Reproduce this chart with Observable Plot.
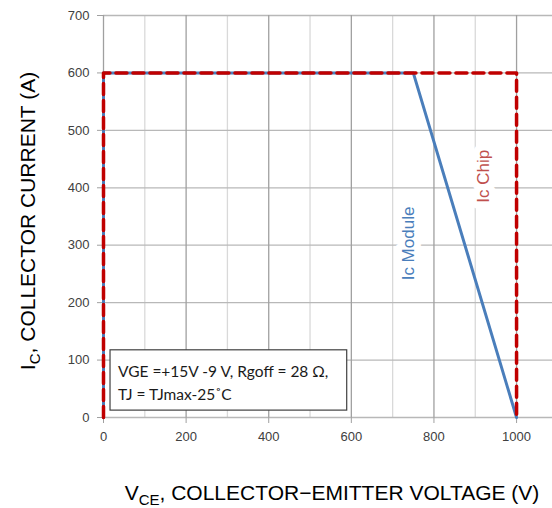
<!DOCTYPE html>
<html>
<head>
<meta charset="utf-8">
<script src="https://cdn.jsdelivr.net/npm/d3@7"></script>
<script src="https://cdn.jsdelivr.net/npm/@observablehq/plot@0.6"></script>
<style>
  html, body { margin: 0; padding: 0; background: #fff; }
  #chart svg { display: block; }
</style>
</head>
<body>
<div id="chart"></div>
<script>
// ---- data ----
const xTicks = [0, 200, 400, 600, 800, 1000];
const xMinor = [100, 300, 500, 700, 900];
const yTicks = [0, 100, 200, 300, 400, 500, 600, 700];

const moduleV = [0, 0, 750, 1000];
const moduleI = [0, 600, 600, 0];
const chipV = [0, 0, 1000, 1000];
const chipI = [0, 600, 600, 0];

const seriesLabels = ["Ic Module", "Ic Chip"];
const seriesLabelV = [738, 920];
const seriesLabelI = [303, 420];

const noteLines = ["VGE =+15V -9 V, Rgoff = 28 Ω,", "TJ = TJmax-25˚C"];
const noteBox = [{x1: 17, x2: 590, y1: 12, y2: 117}];
const noteAnchor = [{x: 35, y: 99}];

const xLabel = {main: "V", sub: "CE", rest: ", COLLECTOR\u2212EMITTER VOLTAGE (V)"};
const yLabel = {main: "I", sub: "C", rest: ", COLLECTOR CURRENT (A)"};

// ---- build tables ----
const moduleData = moduleV.map((v, i) => ({v, i: moduleI[i]}));
const chipData = chipV.map((v, i) => ({v, i: chipI[i]}));
const labelData = seriesLabels.map((t, k) => ({t, v: seriesLabelV[k], i: seriesLabelI[k]}));

const blue = "#4a7ebb";
const red = "#c00000";

const plot = Plot.plot({
  width: 552,
  height: 508,
  marginLeft: 103,
  marginRight: 0,
  marginTop: 15,
  marginBottom: 91,
  style: {fontFamily: "Liberation Sans, Arial, sans-serif", fontSize: "13px", background: "#fff"},
  x: {domain: [0, 1087]},
  y: {domain: [0, 700]},
  marks: [
    Plot.ruleX(xMinor, {stroke: "#d9d9d9", strokeWidth: 1.3}),
    Plot.ruleY(yTicks, {stroke: "#b8b8b8", strokeWidth: 1.3}),
    Plot.ruleX(xTicks, {stroke: "#a0a0a0", strokeWidth: 1.3}),
    Plot.axisX({ticks: xTicks, tickSize: 6, tickPadding: 8, stroke: "#a0a0a0", color: "#404040", label: null, tickFormat: d => String(d)}),
    Plot.axisY({ticks: yTicks, tickSize: 6, tickPadding: 8, stroke: "#a0a0a0", color: "#404040", label: null, tickFormat: d => String(d)}),
    Plot.text(labelData, {x: "v", y: "i", text: "t", rotate: -90, fontSize: 17,
      fill: (d) => d.t === "Ic Module" ? blue : "#c0504d",
      stroke: "white", strokeWidth: 14, paintOrder: "stroke"}),
    Plot.rect(noteBox, {x1: "x1", x2: "x2", y1: "y1", y2: "y2", fill: "white", stroke: "#404040", strokeWidth: 1.2}),
    Plot.text(noteAnchor, {x: "x", y: "y", text: () => noteLines.join("\n"), textAnchor: "start", lineAnchor: "top",
      fontFamily: "Lato, sans-serif", fontSize: 15.5, lineHeight: 1.5, fill: "#1a1a1a"}),
    Plot.line(moduleData, {x: "v", y: "i", stroke: blue, strokeWidth: 3}),
    Plot.line(chipData, {x: "v", y: "i", stroke: red, strokeWidth: 3.5, strokeDasharray: "11,6"})
  ]
});

const svg = d3.select(plot);
function addLabel(lbl, x, y, rotate) {
  const t = svg.append("text")
    .attr("transform", `translate(${x},${y})` + (rotate ? " rotate(-90)" : ""))
    .attr("text-anchor", "middle")
    .attr("font-family", "Liberation Sans, Arial, sans-serif")
    .attr("font-size", 21)
    .attr("fill", "#000");
  t.append("tspan").text(lbl.main);
  t.append("tspan").attr("font-size", 15).attr("dy", 5).text(lbl.sub);
  t.append("tspan").attr("dy", -5).text(lbl.rest);
}
addLabel(xLabel, 332, 500, false);
addLabel(yLabel, 35, 221, true);

document.getElementById("chart").appendChild(plot);
</script>
</body>
</html>
